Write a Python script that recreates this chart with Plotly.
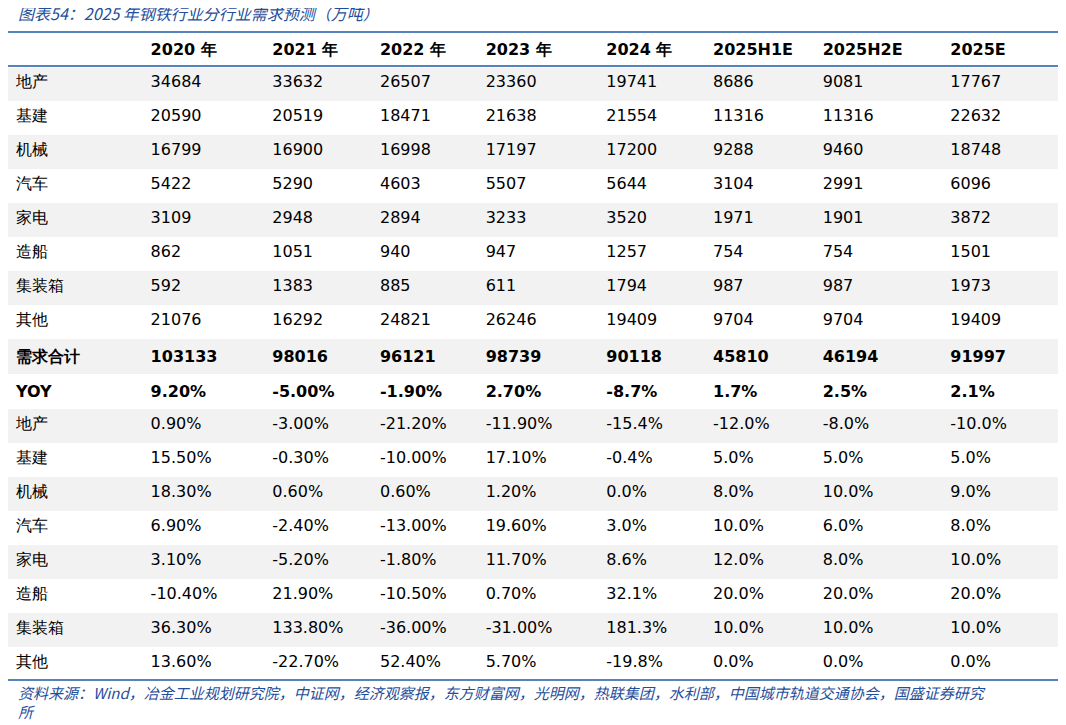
import plotly.graph_objects as go

headers = ["", "2020 年", "2021 年", "2022 年", "2023 年", "2024 年", "2025H1E", "2025H2E", "2025E"]
row_labels = ["地产", "基建", "机械", "汽车", "家电", "造船", "集装箱", "其他", "需求合计", "YOY",
              "地产", "基建", "机械", "汽车", "家电", "造船", "集装箱", "其他"]
y2020 = ["34684", "20590", "16799", "5422", "3109", "862", "592", "21076", "103133", "9.20%",
         "0.90%", "15.50%", "18.30%", "6.90%", "3.10%", "-10.40%", "36.30%", "13.60%"]
y2021 = ["33632", "20519", "16900", "5290", "2948", "1051", "1383", "16292", "98016", "-5.00%",
         "-3.00%", "-0.30%", "0.60%", "-2.40%", "-5.20%", "21.90%", "133.80%", "-22.70%"]
y2022 = ["26507", "18471", "16998", "4603", "2894", "940", "885", "24821", "96121", "-1.90%",
         "-21.20%", "-10.00%", "0.60%", "-13.00%", "-1.80%", "-10.50%", "-36.00%", "52.40%"]
y2023 = ["23360", "21638", "17197", "5507", "3233", "947", "611", "26246", "98739", "2.70%",
         "-11.90%", "17.10%", "1.20%", "19.60%", "11.70%", "0.70%", "-31.00%", "5.70%"]
y2024 = ["19741", "21554", "17200", "5644", "3520", "1257", "1794", "19409", "90118", "-8.7%",
         "-15.4%", "-0.4%", "0.0%", "3.0%", "8.6%", "32.1%", "181.3%", "-19.8%"]
h1 = ["8686", "11316", "9288", "3104", "1971", "754", "987", "9704", "45810", "1.7%",
      "-12.0%", "5.0%", "8.0%", "10.0%", "12.0%", "20.0%", "10.0%", "0.0%"]
h2 = ["9081", "11316", "9460", "2991", "1901", "754", "987", "9704", "46194", "2.5%",
      "-8.0%", "5.0%", "10.0%", "6.0%", "8.0%", "20.0%", "10.0%", "0.0%"]
y2025 = ["17767", "22632", "18748", "6096", "3872", "1501", "1973", "19409", "91997", "2.1%",
         "-10.0%", "5.0%", "9.0%", "8.0%", "10.0%", "20.0%", "10.0%", "0.0%"]
bold_rows = [8, 9]

cols = [row_labels, y2020, y2021, y2022, y2023, y2024, h1, h2, y2025]
cols = [["<b>%s</b>" % v if i in bold_rows else v for i, v in enumerate(c)] for c in cols]
fills = ["#f2f2f2" if i % 2 == 0 else "#ffffff" for i in range(len(row_labels))]

OFF = 8  # page body margin
W, H = 1066 - OFF, 725 - OFF
def px(x): return (x - OFF) / W
def py(y): return 1 - (y - OFF) / H

x0, x1 = 5, 1060
widths = [135, 122, 108, 106, 121, 107, 110, 128, 118]

fig = go.Figure(go.Table(
    domain=dict(x=[max(0, px(x0)), px(x1)], y=[py(684), py(32)]),
    columnwidth=widths,
    header=dict(values=["<b>%s</b>" % h for h in headers], align="left", height=34,
                fill_color="white", line_color="white",
                font=dict(family="DejaVu Sans", size=16, color="black")),
    cells=dict(values=cols, align="left", height=34,
               fill_color=[fills] * 9, line_color=[fills] * 9,
               font=dict(family="DejaVu Sans", size=16, color="black")),
))
blue = "#1f5aa6"
for y in (32, 66, 680):
    fig.add_shape(type="line", xref="paper", yref="paper", x0=max(0, px(x0)), x1=px(x1),
                  y0=py(y), y1=py(y), line=dict(color=blue, width=1.5))
fig.add_annotation(xref="paper", yref="paper", x=px(16), y=py(13), xanchor="left", yanchor="middle",
                   text="<i>图表54：2025 年钢铁行业分行业需求预测（万吨）</i>", showarrow=False,
                   font=dict(family="Noto Sans CJK SC", size=16, color="#1f4e9a"))
fig.add_annotation(xref="paper", yref="paper", x=px(16), y=py(692), xanchor="left", yanchor="middle",
                   text="<i>资料来源：Wind，冶金工业规划研究院，中证网，经济观察报，东方财富网，光明网，热联集团，水利部，中国城市轨道交通协会，国盛证券研究</i>",
                   showarrow=False, font=dict(family="Noto Sans CJK SC", size=15, color="#1f4e9a"))
fig.add_annotation(xref="paper", yref="paper", x=px(16), y=py(711), xanchor="left", yanchor="middle",
                   text="<i>所</i>", showarrow=False,
                   font=dict(family="Noto Sans CJK SC", size=15, color="#1f4e9a"))
fig.update_layout(width=W, height=H, margin=dict(l=0, r=0, t=0, b=0),
                  paper_bgcolor="white", plot_bgcolor="white")
fig.write_html("out.html")
